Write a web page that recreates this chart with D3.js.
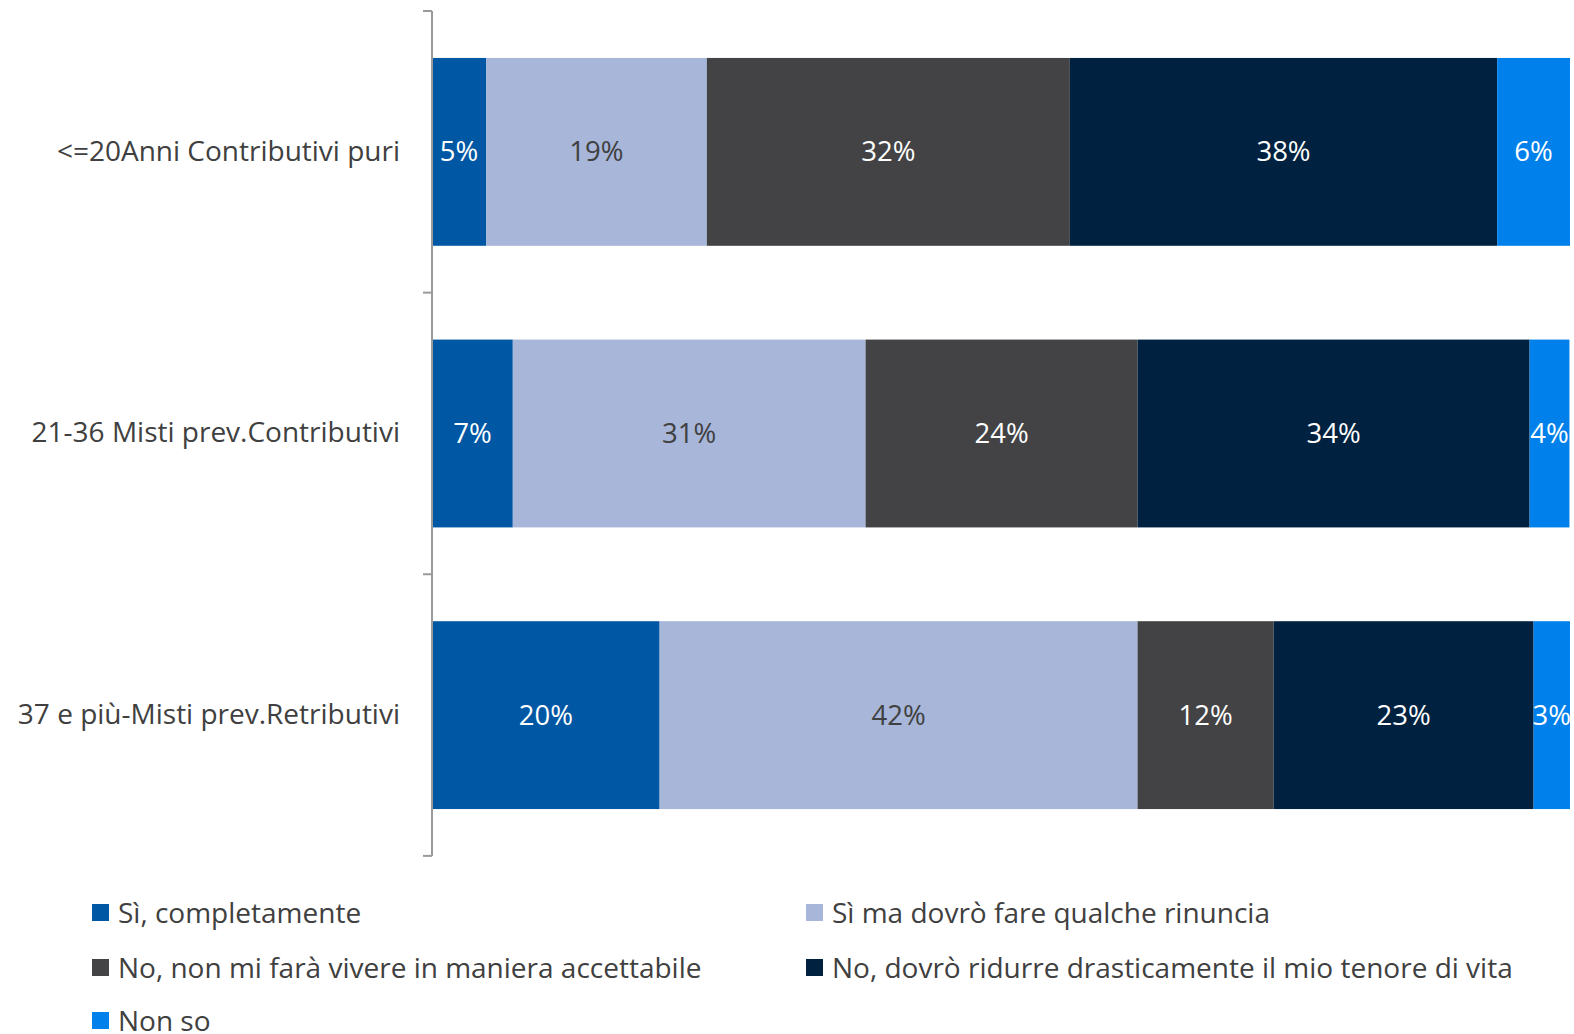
<!DOCTYPE html>
<html>
<head>
<meta charset="utf-8">
<script src="https://cdn.jsdelivr.net/npm/d3@7"></script>
<style>
  html, body { margin: 0; padding: 0; background: #fff; }
  svg { display: block; font-family: "Open Sans", "Noto Sans", sans-serif; }
</style>
</head>
<body>
<svg id="chart" width="1574" height="1034"></svg>
<script>
// ---- data ----
const categories = [
  "<=20Anni Contributivi puri",
  "21-36 Misti prev.Contributivi",
  "37 e più-Misti prev.Retributivi"
];
const seriesNames = [
  "Sì, completamente",
  "Sì ma dovrò fare qualche rinuncia",
  "No, non mi farà vivere in maniera accettabile",
  "No, dovrò ridurre drasticamente il mio tenore di vita",
  "Non so"
];
const siCompletamente = [4.75, 7.1, 20.0];
const siRinuncia      = [19.4, 31.0, 42.0];
const noAccettabile   = [31.9, 23.9, 11.95];
const noDrastico      = [37.55, 34.45, 22.85];
const nonSo           = [6.4, 3.5, 3.2];
const seriesValues = [siCompletamente, siRinuncia, noAccettabile, noDrastico, nonSo];
const colors = ["#0057A4", "#A7B6D9", "#434345", "#002240", "#0080EA"];
const labelColors = ["#ffffff", "#404040", "#ffffff", "#ffffff", "#ffffff"];

// ---- build table ----
const table = categories.map((c, i) => {
  const row = { category: c };
  seriesNames.forEach((s, j) => { row[s] = seriesValues[j][i]; });
  return row;
});

const svg = d3.select("#chart");
const margin = { left: 432, top: 11 };

const x = d3.scaleLinear().domain([0, 100]).range([margin.left, 1570]);
const y = d3.scaleBand().domain(categories)
  .range([margin.top, 856])
  .paddingInner(0.333).paddingOuter(0.1667);

const stacked = d3.stack().keys(seriesNames)(table);

const g = svg.append("g");
stacked.forEach((layer, j) => {
  const lg = g.append("g");
  lg.selectAll("rect").data(layer).join("rect")
    .attr("x", d => x(d[0]))
    .attr("y", d => y(d.data.category))
    .attr("width", d => x(d[1]) - x(d[0]))
    .attr("height", y.bandwidth())
    .attr("fill", colors[j]);
  lg.selectAll("text").data(layer).join("text")
    .attr("x", d => (x(d[0]) + x(d[1])) / 2)
    .attr("y", d => y(d.data.category) + y.bandwidth() / 2)
    .attr("dy", "0.35em")
    .attr("text-anchor", "middle")
    .attr("font-size", 27.5)
    .attr("fill", labelColors[j])
    .text(d => Math.round(d[1] - d[0]) + "%");
});

// ---- axis ----
const axisG = svg.append("g").attr("transform", `translate(${margin.left},0)`);
const yAxis = d3.axisLeft(y).tickSize(0).tickPadding(32);
axisG.call(yAxis);
axisG.select(".domain").remove();
axisG.selectAll(".tick text")
  .attr("font-size", 28)
  .attr("fill", "#404040")
  .attr("font-family", "\"Open Sans\", sans-serif");

const step = y.step();
const boundaries = d3.range(categories.length + 1).map(i => y.range()[0] + i * step);
axisG.append("line")
  .attr("x1", 0).attr("x2", 0)
  .attr("y1", boundaries[0]).attr("y2", boundaries[boundaries.length - 1])
  .attr("stroke", "#9a9a9a").attr("stroke-width", 2);
axisG.selectAll(".btick").data(boundaries).join("line")
  .attr("class", "btick")
  .attr("x1", -9).attr("x2", 0)
  .attr("y1", d => d).attr("y2", d => d)
  .attr("stroke", "#9a9a9a").attr("stroke-width", 2);

// ---- legend ----
const legendPos = [
  { x: 92, y: 913 }, { x: 806, y: 913 },
  { x: 92, y: 968 }, { x: 806, y: 968 },
  { x: 92, y: 1021 }
];
const legend = svg.append("g");
const items = legend.selectAll("g").data(seriesNames).join("g")
  .attr("transform", (d, i) => `translate(${legendPos[i].x},${legendPos[i].y})`);
items.append("rect")
  .attr("x", 0).attr("y", -9).attr("width", 17).attr("height", 17)
  .attr("fill", (d, i) => colors[i]);
items.append("text")
  .attr("x", 26).attr("y", 0).attr("dy", "0.35em")
  .attr("font-size", 28)
  .attr("fill", "#404040")
  .text(d => d);
</script>
</body>
</html>
